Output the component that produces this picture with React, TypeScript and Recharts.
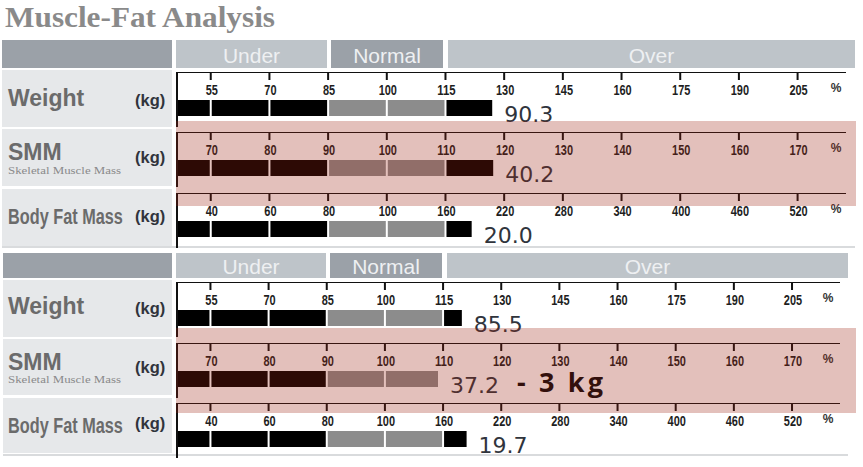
import React from 'react';
import { BarChart, Bar, XAxis, YAxis, LabelList } from 'recharts';

// ---------- data ----------
const metricNames = ['Weight', 'SMM', 'Body Fat Mass'];
const zoneLabels = ['Under', 'Normal', 'Over'];
const weightTicks = [55, 70, 85, 100, 115, 130, 145, 160, 175, 190, 205];
const smmTicks = [70, 80, 90, 100, 110, 120, 130, 140, 150, 160, 170];
const fatTicks = [40, 60, 80, 100, 160, 220, 280, 340, 400, 460, 520];
const normalRanges = [[85, 115], [90, 110], [80, 160]];
const beforeKg = [90.3, 40.2, 20.0];
const beforePct = [127.2, 118.3, 187.8];
const afterKg = [85.5, 37.2, 19.7];
const afterPct = [120.1, 109.3, 185.3];
const changeNote = '- 3 kg';

const allTicks = [weightTicks, smmTicks, fatTicks];

// ---------- layout ----------
const LEFT_PAD = 0.575;
const DMAX = 11.4;
const BLACK = '#000000';
const GREY = '#8c8c8c';
const SANS = '"Liberation Sans", Arial, sans-serif';
const NARROW = '"Liberation Sans Narrow", "Liberation Sans", Arial, sans-serif';

const panels = [
  {
    kg: beforeKg, pct: beforePct,
    header: { y: 40, h: 28, left: [2, 172], under: [176, 327], normal: [331, 443], over: [448, 855] },
    cells: [[70, 127], [129, 186], [189, 246]],
    chartTops: [71.7, 131.7, 193],
    plotW: 669, pctX: 836,
    bottomLine: [246, 2, 855],
    text: { capTop: [89.5, 143, 208], kgBase: [106, 163, 222], subBase: 174 },
    pink: [121, 206],
  },
  {
    kg: afterKg, pct: afterPct,
    header: { y: 253, h: 25, left: [3, 172], under: [176, 326], normal: [330, 442], over: [447, 848] },
    cells: [[280, 337], [339, 395], [398, 453]],
    chartTops: [282.3, 343, 403],
    plotW: 663, pctX: 828,
    bottomLine: [454, 3, 848],
    text: { capTop: [297, 353, 417], kgBase: [314, 373, 429], subBase: 383 },
    pink: [328, 413],
  },
];

function toIndex(p: number, ticks: number[]) {
  const n = ticks.length;
  if (p <= ticks[0]) return (p - ticks[0]) / (ticks[1] - ticks[0]);
  for (let i = 0; i < n - 1; i++) {
    if (p <= ticks[i + 1]) return i + (p - ticks[i]) / (ticks[i + 1] - ticks[i]);
  }
  return n - 1 + (p - ticks[n - 1]) / (ticks[n - 1] - ticks[n - 2]);
}

const Segment = (p: any) => (
  <rect x={p.x + 1} y={p.y} width={Math.max(p.width - 2, 0)} height={p.height} fill={p.fill} />
);

function RowChart({ ticks, normal, pct, kg, plotW }: any) {
  const end = LEFT_PAD + toIndex(pct, ticks);
  const nLo = LEFT_PAD + toIndex(normal[0], ticks);
  const nHi = LEFT_PAD + toIndex(normal[1], ticks);
  const bounds: number[] = [0];
  ticks.forEach((_: number, i: number) => {
    const u = LEFT_PAD + i;
    if (u < end - 1e-6) bounds.push(u);
  });
  bounds.push(end);
  const row: any = { name: 'm', kg: kg.toFixed(1) };
  const segs: { key: string; color: string }[] = [];
  for (let i = 0; i < bounds.length - 1; i++) {
    const a = bounds[i], b = bounds[i + 1];
    row['s' + i] = b - a;
    const mid = (a + b) / 2;
    segs.push({ key: 's' + i, color: mid > nLo && mid < nHi ? GREY : BLACK });
  }
  const tickU = ticks.map((_: number, i: number) => LEFT_PAD + i);
  const renderTick = (props: any) => {
    const { x, payload } = props;
    const i = Math.round(payload.value - LEFT_PAD);
    const label = String(ticks[i]);
    return (
      <g>
        <rect x={x - 1} y={1} width={2} height={7} fill="#111" />
        <text x={x + 1} y={18} textAnchor="middle" dominantBaseline="central" fontSize={14.5} fontWeight="bold"
          fontFamily={NARROW} fill="#1e1e1e" textLength={label.length * 6.1} lengthAdjust="spacingAndGlyphs">
          {label}
        </text>
      </g>
    );
  };
  const renderValue = (props: any) => {
    const { x, y, width, height, value } = props;
    return (
      <text x={x + width + 11} y={y + height / 2 + 6} dominantBaseline="central" fontSize={22}
        fontFamily='"DejaVu Sans", sans-serif' fill="#30343c">{value}</text>
    );
  };
  return (
    <BarChart width={plotW + 1} height={55} data={[row]} layout="vertical" barSize={16}
      margin={{ top: 0, right: 0, bottom: 0, left: 0 }}>
      <XAxis type="number" orientation="top" mirror domain={[0, DMAX]} ticks={tickU} tick={renderTick}
        tickLine={false} axisLine={{ stroke: '#111', strokeWidth: 2 }}
        height={1} interval={0} allowDataOverflow />
      <YAxis type="category" dataKey="name" width={1} tick={false} tickLine={false}
        axisLine={{ stroke: '#111', strokeWidth: 2 }} padding={{ top: 17, bottom: 0 }} />
      {segs.map((s, i) => (
        <Bar key={s.key} dataKey={s.key} stackId="a" fill={s.color} isAnimationActive={false} shape={Segment}>
          {i === segs.length - 1 ? <LabelList dataKey="kg" content={renderValue} /> : null}
        </Bar>
      ))}
    </BarChart>
  );
}

function PanelBackground({ p }: any) {
  const h = p.header;
  const cy = h.y + h.h / 2;
  const zones = [h.under, h.normal, h.over];
  const zoneFill = ['#bec4c9', '#9ba1a8', '#bec4c9'];
  return (
    <g>
      <rect x={h.left[0]} y={h.y} width={h.left[1] - h.left[0]} height={h.h} fill="#9ba1a8" />
      {zones.map((z: number[], i: number) => (
        <g key={i}>
          <rect x={z[0]} y={h.y} width={z[1] - z[0]} height={h.h} fill={zoneFill[i]} />
          <text x={(z[0] + z[1]) / 2} y={cy + 1} textAnchor="middle" dominantBaseline="central"
            fontSize={21} fontFamily={SANS} fill="#eef0f2">{zoneLabels[i]}</text>
        </g>
      ))}
      {p.cells.map((c: number[], i: number) => (
        <rect key={i} x={h.left[0]} y={c[0]} width={h.left[1] - h.left[0]} height={c[1] - c[0]} fill="#e6e8ea" />
      ))}
      <rect x={p.bottomLine[1]} y={p.bottomLine[0]} width={p.bottomLine[2] - p.bottomLine[1]} height={2} fill="#d9dbdd" />
      <text x={8} y={p.text.capTop[0] + 16.5} fontSize={23} fontWeight="bold" fontFamily={SANS} fill="#6b6b6b">{metricNames[0]}</text>
      <text x={8} y={p.text.capTop[1] + 16.5} fontSize={23} fontWeight="bold" fontFamily={SANS} fill="#6b6b6b">{metricNames[1]}</text>
      <text x={8} y={p.text.subBase} fontSize={10.5} fontFamily='"Liberation Serif", serif' fill="#8a8a8a"
        textLength={113} lengthAdjust="spacingAndGlyphs">Skeletal Muscle Mass</text>
      <text transform={`translate(8,${p.text.capTop[2] + 16}) scale(0.74,1)`} x={0} y={0} fontSize={22}
        fontWeight="bold" fontFamily={SANS} fill="#6b6b6b">{metricNames[2]}</text>
      {p.text.kgBase.map((b: number, i: number) => (
        <text key={i} x={135} y={b} fontSize={16.5} fontWeight="bold" fontFamily={SANS} fill="#30343c">(kg)</text>
      ))}
      {p.chartTops.map((t: number, i: number) => (
        <text key={i} x={p.pctX} y={t + 16} textAnchor="middle" dominantBaseline="central" fontSize={12}
          fontWeight="bold" fontFamily={NARROW} fill="#333">%</text>
      ))}
    </g>
  );
}

export default function App() {
  return (
    <div style={{ position: 'absolute', left: 0, top: 0, width: 863, height: 467, background: '#fff', overflow: 'hidden' }}>
      <svg width={863} height={467} style={{ position: 'absolute', left: 0, top: 0 }}>
        <text x={5} y={27} fontSize={29} fontWeight="bold" fontFamily='"Liberation Serif", "Times New Roman", serif'
          fill="#8a8a8a" textLength={270} lengthAdjust="spacingAndGlyphs">Muscle-Fat Analysis</text>
        {panels.map((p, i) => <PanelBackground key={i} p={p} />)}
      </svg>
      {panels.map((p, pi) =>
        p.chartTops.map((t, ri) => (
          <div key={pi + '-' + ri} style={{ position: 'absolute', left: 176, top: t }}>
            <RowChart ticks={allTicks[ri]} normal={normalRanges[ri]} pct={p.pct[ri]} kg={p.kg[ri]} plotW={p.plotW} />
          </div>
        ))
      )}
      {panels.map((p, i) => (
        <div key={'pink' + i} style={{
          position: 'absolute', left: 176, top: p.pink[0], width: 680, height: p.pink[1] - p.pink[0],
          background: 'rgba(157,35,17,0.287)', pointerEvents: 'none',
        }} />
      ))}
      <svg width={863} height={467} style={{ position: 'absolute', left: 0, top: 0, pointerEvents: 'none' }}>
        <text x={517} y={392} fontSize={27} fontWeight="bold" fontFamily='"Open Sans", "Noto Sans", sans-serif'
          fill="#33100c" textLength={86} lengthAdjust="spacing">{changeNote}</text>
      </svg>
    </div>
  );
}
